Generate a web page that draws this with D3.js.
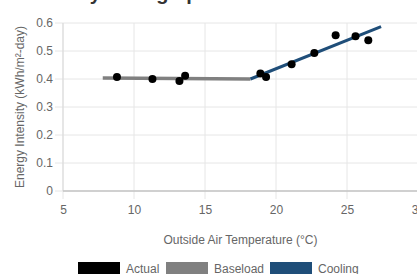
<!DOCTYPE html>
<html>
<head>
<meta charset="utf-8">
<script src="https://cdnjs.cloudflare.com/ajax/libs/d3/7.8.5/d3.min.js"></script>
<style>
  body { margin: 0; background: #fff; }
  svg { display: block; font-family: "Liberation Sans", Arial, Helvetica, sans-serif; }
</style>
</head>
<body>
<div id="chart"></div>
<script>
// data
var actualTemp = [8.8, 11.3, 13.2, 13.6, 18.9, 19.3, 21.1, 22.7, 24.2, 25.6, 26.5];
var actualVal  = [0.407, 0.400, 0.393, 0.412, 0.420, 0.407, 0.453, 0.493, 0.556, 0.553, 0.538];
var baseloadTemp = [7.8, 18.2];
var baseloadVal  = [0.404, 0.400];
var coolingTemp = [18.2, 27.4];
var coolingVal  = [0.400, 0.587];
var xTicks = [5, 10, 15, 20, 25, 30];
var yTicks = [0, 0.1, 0.2, 0.3, 0.4, 0.5, 0.6];
var legendNames = ["Actual", "Baseload", "Cooling"];

var W = 417, H = 274;
var margin = {top: 23, right: -1, bottom: 83, left: 63};
var width = W - margin.left - margin.right,
    height = H - margin.top - margin.bottom;

var colors = {Actual: "#000000", Baseload: "#808080", Cooling: "#1f4e79"};

var svg = d3.select("#chart").append("svg")
    .attr("width", W)
    .attr("height", H);

// title, mostly cut off at the top (only descenders show)
svg.append("text")
    .attr("x", 53)
    .attr("y", -0.5)
    .style("font-size", "20px")
    .style("font-weight", "bold")
    .style("fill", "#333")
    .text("Daily Change-point Model");

var g = svg.append("g")
    .attr("transform", "translate(" + margin.left + "," + margin.top + ")");

var x = d3.scaleLinear().domain([5, 30]).range([0, width]);
var y = d3.scaleLinear().domain([0, 0.6]).range([height, 0]);

// grid lines
g.append("g").selectAll("line")
    .data(yTicks)
    .enter().append("line")
    .attr("x1", -8).attr("x2", width)
    .attr("y1", function(d) { return y(d); })
    .attr("y2", function(d) { return y(d); })
    .style("stroke", "#e6e6e6")
    .style("stroke-width", 1);

g.append("g").selectAll("line")
    .data(xTicks)
    .enter().append("line")
    .attr("y1", 0).attr("y2", height + 8)
    .attr("x1", function(d) { return x(d); })
    .attr("x2", function(d) { return x(d); })
    .style("stroke", "#e6e6e6")
    .style("stroke-width", 1);

// axis lines
g.append("line")
    .attr("x1", 0).attr("x2", 0)
    .attr("y1", 0).attr("y2", height)
    .style("stroke", "#d9d9d9").style("stroke-width", 1);
g.append("line")
    .attr("x1", 0).attr("x2", width)
    .attr("y1", height).attr("y2", height)
    .style("stroke", "#c4c4c4").style("stroke-width", 1.5);

// y axis labels
var yAxis = g.append("g")
    .call(d3.axisLeft(y).tickValues(yTicks).tickSize(0).tickPadding(10)
      .tickFormat(function(d) { return d3.format("~g")(d); }));
yAxis.select(".domain").remove();
yAxis.selectAll("text").style("font-size", "12px").style("fill", "#666")
    .style("font-family", "'Liberation Sans', Arial, sans-serif");

// x axis labels
var xAxis = g.append("g")
    .attr("transform", "translate(0," + height + ")")
    .call(d3.axisBottom(x).tickValues(xTicks).tickSize(0).tickPadding(14));
xAxis.select(".domain").remove();
xAxis.selectAll("text").style("font-size", "12px").style("fill", "#666")
    .style("font-family", "'Liberation Sans', Arial, sans-serif");

// lines
var line = d3.line()
    .x(function(d) { return x(d[0]); })
    .y(function(d) { return y(d[1]); });

g.append("path")
    .datum(d3.zip(baseloadTemp, baseloadVal))
    .attr("d", line)
    .style("fill", "none")
    .style("stroke", colors.Baseload)
    .style("stroke-width", 3.5);

g.append("path")
    .datum(d3.zip(coolingTemp, coolingVal))
    .attr("d", line)
    .style("fill", "none")
    .style("stroke", colors.Cooling)
    .style("stroke-width", 3);

// actual points
g.selectAll(".dot")
    .data(d3.zip(actualTemp, actualVal))
    .enter().append("circle")
    .attr("class", "dot")
    .attr("cx", function(d) { return x(d[0]); })
    .attr("cy", function(d) { return y(d[1]); })
    .attr("r", 4)
    .style("fill", colors.Actual);

// axis titles
svg.append("text")
    .attr("transform", "rotate(-90)")
    .attr("x", -(margin.top + height / 2))
    .attr("y", 24)
    .attr("text-anchor", "middle")
    .style("font-size", "12px")
    .style("fill", "#666")
    .text("Energy Intensity (kWh/m\u00b2-day)");

svg.append("text")
    .attr("x", margin.left + width / 2)
    .attr("y", 244)
    .attr("text-anchor", "middle")
    .style("font-size", "12px")
    .style("fill", "#666")
    .text("Outside Air Temperature (\u00b0C)");

// legend
var legendX = [78, 166, 270];
var leg = svg.append("g").selectAll("g")
    .data(legendNames)
    .enter().append("g")
    .attr("transform", function(d, i) { return "translate(" + legendX[i] + ",262)"; });
leg.append("rect")
    .attr("width", 42).attr("height", 13)
    .style("fill", function(d) { return colors[d]; });
leg.append("text")
    .attr("x", 48).attr("y", 11)
    .style("font-size", "12px")
    .style("fill", "#666")
    .text(function(d) { return d; });
</script>
</body>
</html>
